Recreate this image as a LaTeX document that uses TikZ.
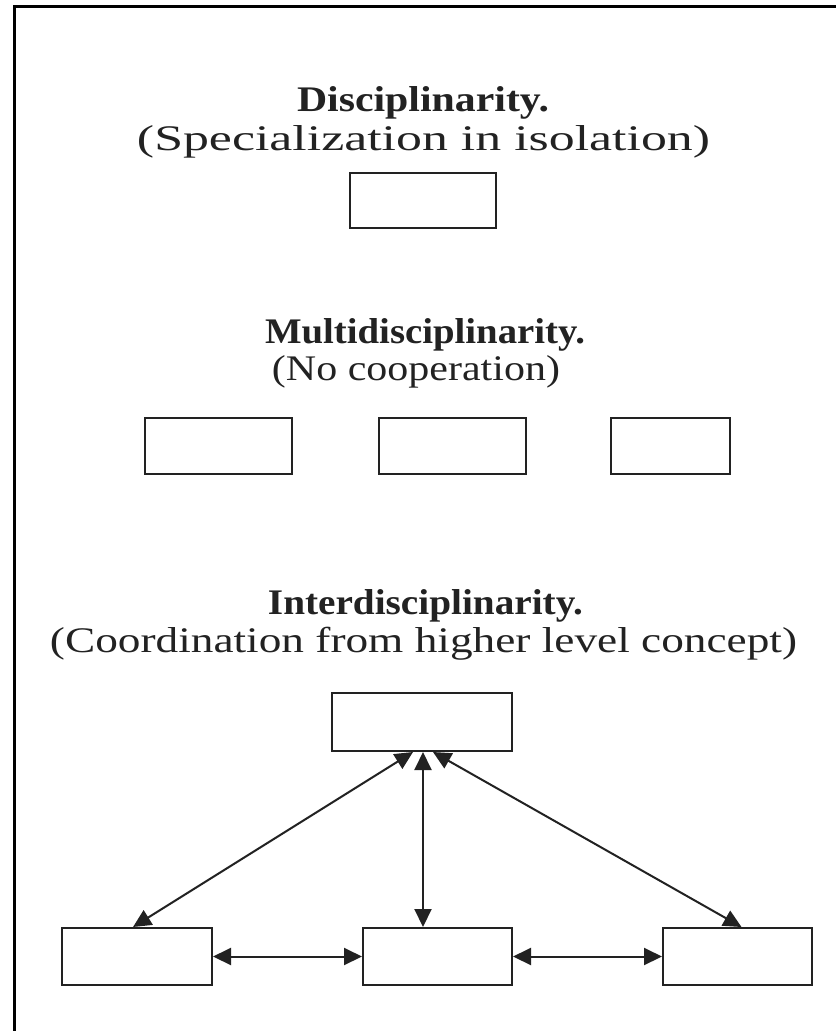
\documentclass[tikz,border=0pt]{standalone}
\usepackage{fontspec}
\setmainfont{Liberation Serif}
\usetikzlibrary{arrows.meta}
\definecolor{ink}{HTML}{222222}
\newcommand\fitto[2]{\resizebox{#1}{\height}{#2}}
\begin{document}
\begin{tikzpicture}[x=1pt,y=-1pt,
  box/.style={draw=ink,line width=2pt,minimum width=147pt,minimum height=56pt,inner sep=0pt,fill=white},
  title/.style={anchor=base,inner sep=0pt,text=ink,font=\fontsize{36}{40}\selectfont\bfseries},
  sub/.style={anchor=base,inner sep=0pt,text=ink,font=\fontsize{36}{40}\selectfont},
  link/.style={draw=ink,line width=2pt,{Triangle[length=18pt,width=17pt]}-{Triangle[length=18pt,width=17pt]}}]
\useasboundingbox (0,0) rectangle (836,1031);
\draw[line width=2.5pt,black] (14.5,1031) -- (14.5,6.5) -- (836,6.5);
% Disciplinarity
\node[title] (t1) at (423,111) {\fitto{252pt}{Disciplinarity.}};
\node[sub] (s1) at (423.5,150) {\fitto{573pt}{(Specialization in isolation)}};
\node[box,minimum width=146pt,minimum height=55pt] (d) at (423,200.5) {};
% Multidisciplinarity
\node[title] (t2) at (425,343) {\fitto{320pt}{Multidisciplinarity.}};
\node[sub] (s2) at (416,380) {\fitto{288pt}{(No cooperation)}};
\node[box] (m1) at (218.5,446) {};
\node[box] (m2) at (452.5,446) {};
\node[box,minimum width=119pt] (m3) at (670.5,446) {};
% Interdisciplinarity
\node[title] (t3) at (425.5,614) {\fitto{315pt}{Interdisciplinarity.}};
\node[sub] (s3) at (423.5,652) {\fitto{747pt}{(Coordination from higher level concept)}};
\node[box,minimum width=180pt,minimum height=58pt] (top) at (422,722) {};
\node[box,minimum width=150pt,minimum height=57pt] (bl) at (137,956.5) {};
\node[box,minimum width=149pt,minimum height=57pt] (bm) at (437.5,956.5) {};
\node[box,minimum width=149pt,minimum height=57pt] (br) at (737.5,956.5) {};
\draw[link] ([xshift=-9pt]top.south) -- ([xshift=-4pt]bl.north);
\draw[link] ([xshift=11pt]top.south) -- ([xshift=4pt]br.north);
\draw[link] (top.south -| 423,0) -- (bm.north -| 423,0);
\draw[link] (bl.east) -- (bm.west);
\draw[link] (bm.east) -- (br.west);
\end{tikzpicture}
\end{document}
